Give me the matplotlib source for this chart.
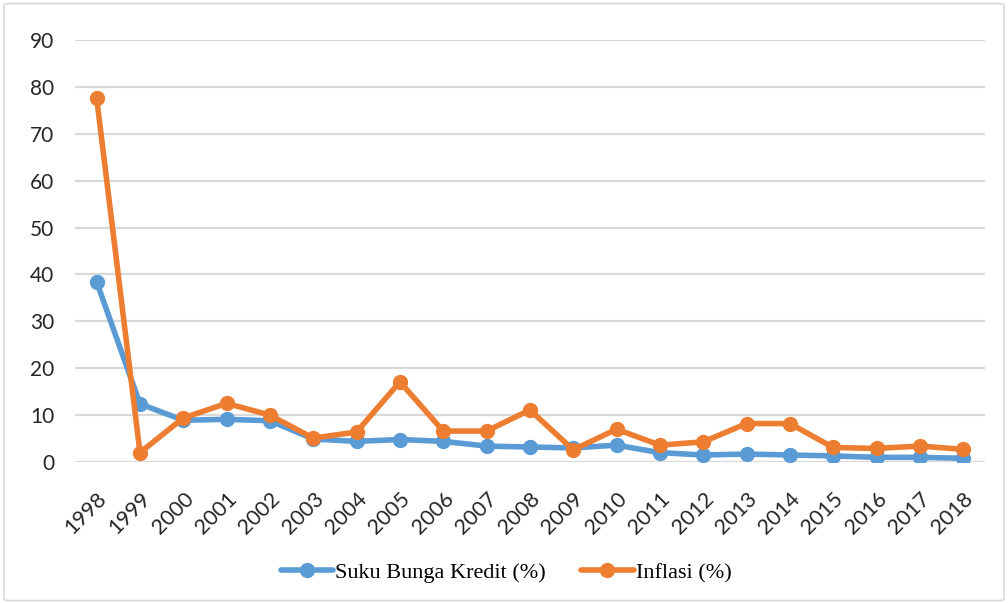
import numpy as np
import matplotlib.pyplot as plt
from matplotlib.patches import FancyBboxPatch

years = [str(y) for y in range(1998, 2019)]
suku_bunga = [38.4, 12.4, 8.9, 9.1, 8.8, 4.9, 4.4, 4.8, 4.4, 3.4, 3.2,
              3.0, 3.6, 2.0, 1.5, 1.7, 1.5, 1.3, 1.0, 1.0, 0.8]
inflasi = [77.6, 2.0, 9.4, 12.5, 10.0, 5.1, 6.4, 17.1, 6.6, 6.6, 11.1,
           2.6, 7.0, 3.6, 4.3, 8.2, 8.2, 3.1, 2.9, 3.4, 2.7]
yticks = np.arange(0, 100, 10)

blue = "#5B9BD5"
orange = "#ED7D31"

fig = plt.figure(figsize=(10.08, 6.03), dpi=100)
ax = fig.add_axes([0.0744, 0.2338, 0.9026, 0.70])

x = np.arange(len(years))
ax.plot(x, suku_bunga, color=blue, lw=4, marker="o", ms=10,
        solid_capstyle="round", label="Suku Bunga Kredit (%)", zorder=3)
ax.plot(x, inflasi, color=orange, lw=4, marker="o", ms=10,
        solid_capstyle="round", label="Inflasi (%)", zorder=4)

ax.set_xlim(-0.5, len(years) - 0.5)
ax.set_ylim(0, 90)
ax.set_yticks(yticks)
ax.set_xticks(x)
ax.set_xticklabels(years, rotation=45, ha="right", rotation_mode="anchor",
                   fontsize=15.5, family="Lato", color="#262626")
for lab in ax.get_yticklabels():
    lab.set_fontsize(15)
    lab.set_family("Lato")
    lab.set_color("#262626")
ax.tick_params(axis="both", length=0)
ax.tick_params(axis="x", pad=19)
ax.tick_params(axis="y", pad=15)
ax.grid(axis="y", color="#D9D9D9", lw=1.6)
ax.set_axisbelow(True)
for s in ax.spines.values():
    s.set_visible(False)

leg = fig.legend(loc="center", bbox_to_anchor=(0.502, 0.05), ncol=2,
                 frameon=False, handlelength=2.35, columnspacing=1.6,
                 handletextpad=0.1,
                 prop={"family": "Liberation Serif", "size": 16})

border = FancyBboxPatch((0.004, 0.004), 0.992, 0.99, transform=fig.transFigure,
                        boxstyle="round,pad=0,rounding_size=0.004",
                        fc="none", ec="#D9D9D9", lw=1.2)
fig.patches.append(border)

fig.savefig("out.png", dpi=100)
